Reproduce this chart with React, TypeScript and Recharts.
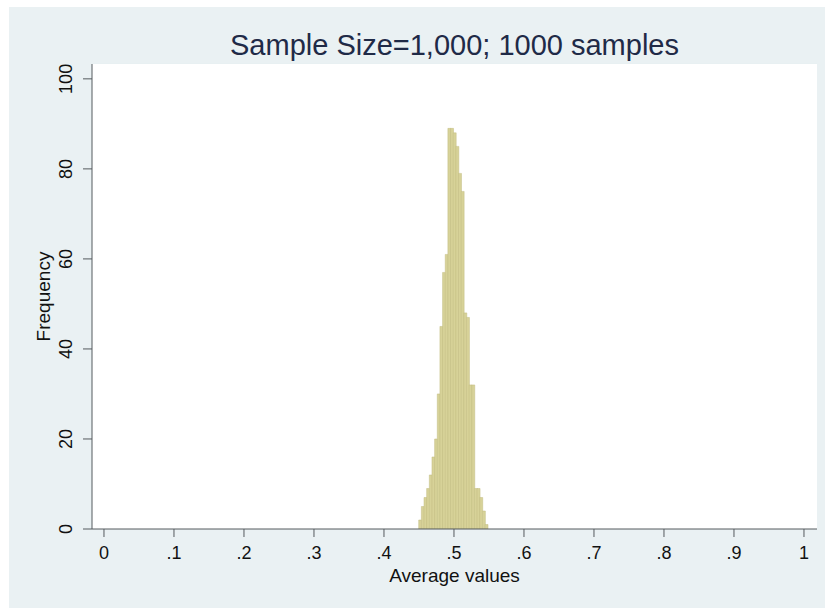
import { Bar, BarChart, CartesianGrid, Label, XAxis, YAxis } from "recharts";

// histogram of 1000 sample means, sample size 1,000
const BIN_START = 0.4496;
const BIN_WIDTH = 0.00379;
const counts = [
  2, 5, 7, 9, 12, 16, 20, 30, 45, 57, 61, 89, 89, 88, 85, 79, 75, 48, 47, 32,
  32, 9, 9, 7, 4, 1,
];

const xTicks = [0, 0.1, 0.2, 0.3, 0.4, 0.5, 0.6, 0.7, 0.8, 0.9, 1];
const xTickLabels = ["0", ".1", ".2", ".3", ".4", ".5", ".6", ".7", ".8", ".9", "1"];
const yTicks = [0, 20, 40, 60, 80, 100];

const data = counts.map((count, i) => ({
  mid: BIN_START + BIN_WIDTH * (i + 0.5),
  count,
}));

const FONT = '"Liberation Sans", Arial, Helvetica, sans-serif';
const AXIS = "#555a5e";

function XTick({ x, y, index }: any) {
  return (
    <text x={x} y={y + 20} textAnchor="middle" fontFamily={FONT} fontSize={18} fill="#111">
      {xTickLabels[index]}
    </text>
  );
}

function YTick({ x, y, payload }: any) {
  const bx = x - 9;
  return (
    <text
      x={bx}
      y={y}
      transform={`rotate(-90, ${bx}, ${y})`}
      textAnchor="middle"
      fontFamily={FONT}
      fontSize={18}
      fill="#111"
    >
      {payload.value}
    </text>
  );
}

export default function App() {
  return (
    <div style={{ position: "fixed", left: 0, top: 0, width: 825, height: 608, background: "#fff" }}>
      <div
        style={{
          position: "absolute",
          left: 9,
          top: 7,
          width: 816,
          height: 601,
          background: "#eaf1f3",
        }}
      />
      <div
        style={{
          position: "absolute",
          left: 92,
          width: 725,
          top: 31,
          textAlign: "center",
          fontFamily: FONT,
          fontSize: 29,
          lineHeight: "29px",
          color: "#1f2a47",
          whiteSpace: "nowrap",
        }}
      >
        Sample Size=1,000; 1000 samples
      </div>
      <div style={{ position: "absolute", left: 0, top: 0 }}>
        <BarChart
          width={825}
          height={608}
          data={data}
          margin={{ top: 64, right: 8, bottom: 0, left: 0 }}
          barCategoryGap={0}
          barGap={0}
        >
          <rect x={92} y={64} width={725} height={465} fill="#fff" />
          <CartesianGrid vertical={false} stroke="#e6eef0" fill="#fff" />
          <XAxis
            dataKey="mid"
            type="number"
            domain={[-0.0171, 1.0186]}
            ticks={xTicks}
            interval={0}
            allowDataOverflow
            height={79}
            stroke={AXIS}
            tickSize={8}
            tick={<XTick />}
          >
            <Label
              content={() => (
                <text x={454.5} y={582} textAnchor="middle" fontFamily={FONT} fontSize={19} fill="#111">
                  Average values
                </text>
              )}
            />
          </XAxis>
          <YAxis
            type="number"
            domain={[0, 103.3]}
            ticks={yTicks}
            interval={0}
            allowDataOverflow
            width={92}
            stroke={AXIS}
            tickSize={9}
            tick={<YTick />}
          >
            <Label
              content={() => (
                <text
                  x={50}
                  y={296.5}
                  transform="rotate(-90, 50, 296.5)"
                  textAnchor="middle"
                  fontFamily={FONT}
                  fontSize={19}
                  fill="#111"
                >
                  Frequency
                </text>
              )}
            />
          </YAxis>
          <Bar
            dataKey="count"
            fill="#d7d298"
            stroke="#c3bc82"
            strokeWidth={0.5}
            isAnimationActive={false}
          />
        </BarChart>
      </div>
    </div>
  );
}
